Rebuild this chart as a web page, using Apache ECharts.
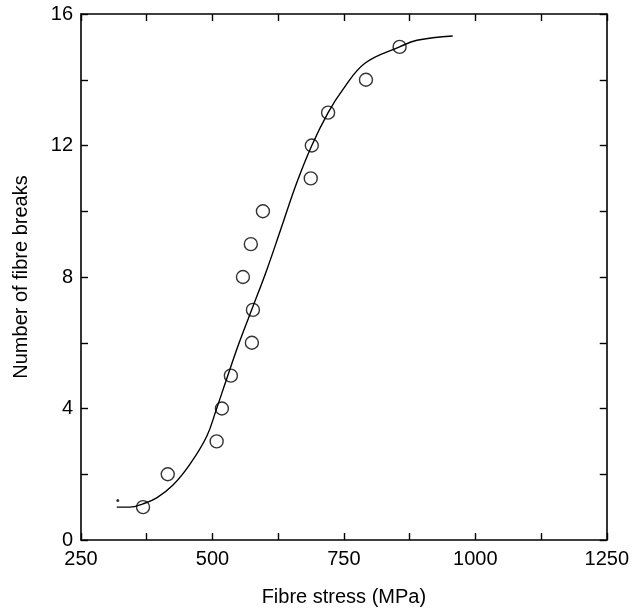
<!DOCTYPE html>
<html>
<head>
<meta charset="utf-8">
<title>Fibre breaks</title>
<script src="https://cdn.jsdelivr.net/npm/echarts@6/dist/echarts.min.js"></script>
<style>
html,body{margin:0;padding:0;background:#fff;}
#chart{width:632px;height:615px;}
</style>
</head>
<body>
<div id="chart"></div>
<script>
// measured points: fibre stress (MPa), number of fibre breaks
var stress = [368, 415, 508, 518, 535, 575, 577, 558, 573, 596, 687, 689, 720, 792, 856];
var breaks = [1, 2, 3, 4, 5, 6, 7, 8, 9, 10, 11, 12, 13, 14, 15];

// fitted curve
var curveX = [318, 343, 368, 394, 425, 457, 489, 507, 527, 552, 577, 603, 630, 660, 689, 720, 748, 790, 856, 889, 957];
var curveY = [1.0, 1.0, 1.1, 1.28, 1.67, 2.3, 3.15, 3.95, 4.9, 6.05, 7.1, 8.2, 9.45, 10.85, 12.0, 13.0, 13.7, 14.5, 15.0, 15.2, 15.33];

// stray dot left of the curve start
var dotX = [320];
var dotY = [1.2];

var xTickLabels = [250, 500, 750, 1000, 1250];
var yTickLabels = [0, 4, 8, 12, 16];

function zip(a, b) {
	var out = [];
	for (var i = 0; i < a.length; i++) out.push([a[i], b[i]]);
	return out;
}

var font = 'Liberation Sans, Arial, sans-serif';
var lineStyle = {color: '#000', width: 1.6};
var tick = {show: true, inside: true, length: 7, lineStyle: {color: '#000', width: 1.4}};

var myChart = echarts.init(document.getElementById('chart'));
var option = {
	animation: false,
	backgroundColor: '#fff',
	grid: {left: 81, right: 25, top: 14, bottom: 75},
	xAxis: [{
		type: 'value', min: 250, max: 1250, interval: 125,
		name: 'Fibre stress (MPa)', nameLocation: 'middle', nameGap: 47,
		nameTextStyle: {fontFamily: font, fontSize: 20, color: '#000'},
		axisLine: {show: true, onZero: false, lineStyle: lineStyle},
		axisTick: tick,
		splitLine: {show: false},
		axisLabel: {
			margin: 9, fontFamily: font, fontSize: 20, color: '#000',
			formatter: function (v) { return xTickLabels.indexOf(v) >= 0 ? String(v) : ''; }
		}
	}, {
		type: 'value', min: 250, max: 1250, interval: 125, position: 'top',
		axisLine: {show: true, onZero: false, lineStyle: lineStyle},
		axisTick: tick, axisLabel: {show: false}, splitLine: {show: false}
	}],
	yAxis: [{
		type: 'value', min: 0, max: 16, interval: 2,
		name: 'Number of fibre breaks', nameLocation: 'middle', nameGap: 50,
		nameTextStyle: {fontFamily: font, fontSize: 20, color: '#000'},
		axisLine: {show: true, onZero: false, lineStyle: lineStyle},
		axisTick: tick,
		splitLine: {show: false},
		axisLabel: {
			margin: 8, fontFamily: font, fontSize: 20, color: '#000',
			formatter: function (v) { return yTickLabels.indexOf(v) >= 0 ? String(v) : ''; }
		}
	}, {
		type: 'value', min: 0, max: 16, interval: 2, position: 'right',
		axisLine: {show: true, onZero: false, lineStyle: lineStyle},
		axisTick: tick, axisLabel: {show: false}, splitLine: {show: false}
	}],
	series: [{
		type: 'line',
		data: zip(curveX, curveY),
		showSymbol: false,
		smooth: 0.4,
		lineStyle: {color: '#000', width: 1.4}
	}, {
		type: 'scatter',
		data: zip(stress, breaks),
		symbol: 'circle',
		symbolSize: 13,
		itemStyle: {color: 'rgba(255,255,255,0)', borderColor: '#000', borderWidth: 1.4}
	}, {
		type: 'scatter',
		data: zip(dotX, dotY),
		symbolSize: 3,
		itemStyle: {color: '#000'}
	}]
};
myChart.setOption(option);
</script>
</body>
</html>
